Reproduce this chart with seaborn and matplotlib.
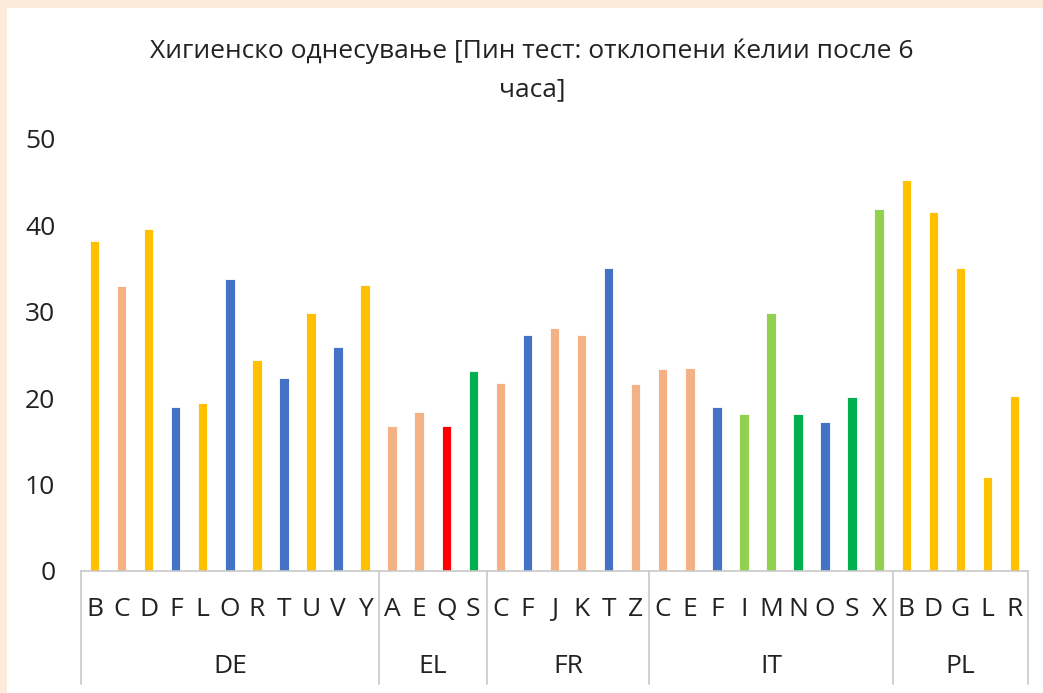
import matplotlib
matplotlib.use('Agg')
import numpy as np
import pandas as pd
import matplotlib.pyplot as plt
import matplotlib.transforms as mtransforms
import seaborn as sns

# ---- data ----
groups = ["DE", "EL", "FR", "IT", "PL"]
group_letters = [
    ["B", "C", "D", "F", "L", "O", "R", "T", "U", "V", "Y"],
    ["A", "E", "Q", "S"],
    ["C", "F", "J", "K", "T", "Z"],
    ["C", "E", "F", "I", "M", "N", "O", "S", "X"],
    ["B", "D", "G", "L", "R"],
]
group_values = [
    [38.2, 33.0, 39.6, 19.0, 19.5, 33.8, 24.4, 22.3, 29.9, 25.9, 33.1],
    [16.8, 18.4, 16.8, 23.2],
    [21.8, 27.3, 28.1, 27.3, 35.1, 21.7],
    [23.4, 23.5, 19.0, 18.2, 29.9, 18.2, 17.3, 20.1, 41.9],
    [45.3, 41.6, 35.1, 10.9, 20.3],
]
group_colors = [
    ["#FFC000", "#F4B183", "#FFC000", "#4472C4", "#FFC000", "#4472C4",
     "#FFC000", "#4472C4", "#FFC000", "#4472C4", "#FFC000"],
    ["#F4B183", "#F4B183", "#FF0000", "#00B050"],
    ["#F4B183", "#4472C4", "#F4B183", "#F4B183", "#4472C4", "#F4B183"],
    ["#F4B183", "#F4B183", "#4472C4", "#92D050", "#92D050", "#00B050",
     "#4472C4", "#00B050", "#92D050"],
    ["#FFC000", "#FFC000", "#FFC000", "#FFC000", "#FFC000"],
]
title = "Хигиенско однесување [Пин тест: отклопени ќелии после 6\nчаса]"

rows = []
for g, letters, vals, cols in zip(groups, group_letters, group_values, group_colors):
    for l, v, c in zip(letters, vals, cols):
        rows.append({"key": f"{g}-{l}", "group": g, "letter": l, "value": v, "color": c})
df = pd.DataFrame(rows)

sns.set_style("white")
plt.rcParams['font.family'] = ['Open Sans', 'DejaVu Sans']

fig = plt.figure(figsize=(10.43, 6.93), dpi=100)
fig.patch.set_facecolor("#FDEBD9")
fig.add_artist(plt.Rectangle((7 / 1043, 0), 1, 1 - 8 / 693, transform=fig.transFigure,
                             facecolor="white", edgecolor="none", zorder=0))

ax = fig.add_axes([81 / 1043, 1 - 571 / 693, (1028 - 81) / 1043, 432 / 693])
ax.set_facecolor("none")

palette = dict(zip(df["key"], df["color"]))
sns.barplot(data=df, x="key", y="value", hue="key", palette=palette, dodge=False,
            width=0.35, saturation=1, legend=False, ax=ax,
            edgecolor="white", linewidth=0.6)

ax.set_ylim(0, 50)
ax.set_xlim(-0.5, len(df) - 0.5)
ax.set_yticks(np.arange(0, 51, 10))
ax.tick_params(axis="y", labelsize=19, length=0, pad=18.5, colors="#222222")
ax.set_xticks(np.arange(len(df)))
ax.set_xticklabels(df["letter"], fontsize=19, color="#222222")
ax.tick_params(axis="x", length=0, pad=19)
ax.set_xlabel("")
ax.set_ylabel("")
for s in ["top", "right", "left"]:
    ax.spines[s].set_visible(False)
ax.spines["bottom"].set_color("#C8C8C8")
ax.spines["bottom"].set_linewidth(1.2)

# group separators and group labels
trans = mtransforms.blended_transform_factory(ax.transData, ax.transAxes)
sizes = [len(l) for l in group_letters]
edges = np.concatenate([[0], np.cumsum(sizes)]) - 0.5
for e in edges:
    ax.plot([e, e], [0, -0.262], transform=trans, clip_on=False,
            color="#C8C8C8", lw=1.2)
for g, a, b in zip(groups, edges[:-1], edges[1:]):
    ax.text((a + b) / 2, -0.222, g, transform=trans, ha="center", va="center",
            fontsize=19, color="#222222")

fig.text(532 / 1043, 1 - 70 / 693, title, ha="center", va="center",
         fontsize=19, color="#222222", linespacing=1.7)

fig.savefig("out.png", dpi=100, facecolor=fig.get_facecolor())
